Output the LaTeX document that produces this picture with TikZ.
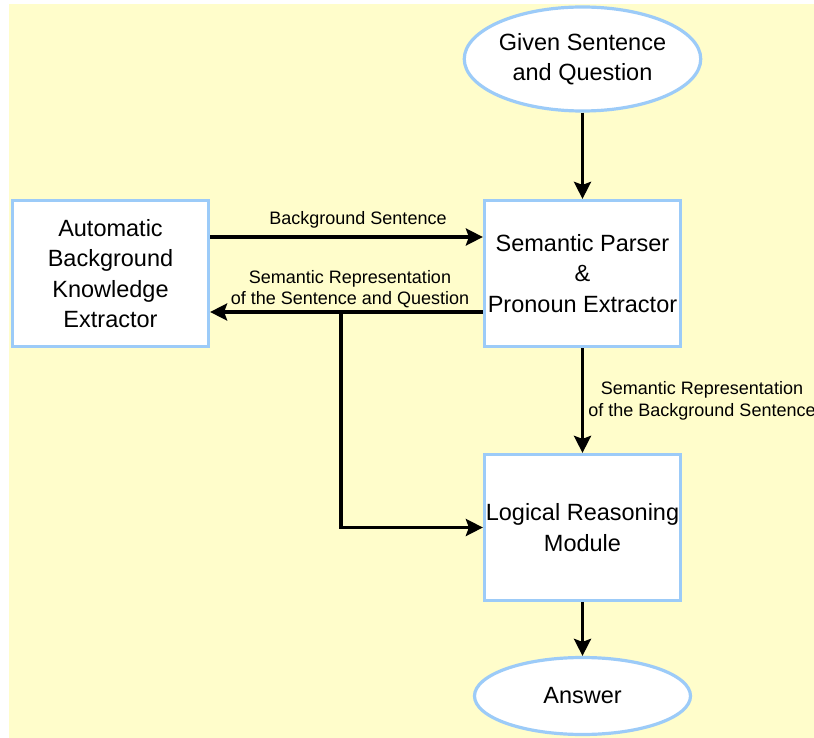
\documentclass[tikz,border=0pt]{standalone}
\usepackage{fontspec}
\setmainfont{Liberation Sans}
\usetikzlibrary{shapes.geometric,arrows.meta}
\definecolor{paper}{HTML}{FFFDCB}
\definecolor{edgeblue}{HTML}{9CCBF8}
\begin{document}
\begin{tikzpicture}[x=1pt,y=-1pt,
  box/.style={draw=edgeblue,line width=3.2pt,fill=white,minimum width=196pt,minimum height=146pt,
    align=center,font=\fontsize{23.5}{30.5}\selectfont,inner sep=0pt},
  oval/.style={ellipse,draw=edgeblue,line width=3.2pt,fill=white,align=center,
    font=\fontsize{23.5}{30.5}\selectfont,inner sep=0pt},
  arr/.style={line width=3.6pt,-{Stealth[length=17pt,width=17pt,inset=3pt]}},
  lbl/.style={align=center,font=\fontsize{18}{21.5}\selectfont,inner sep=0pt}]
  \useasboundingbox (0,0) rectangle (814,738);
  \fill[paper] (9,4) rectangle (814,738);

  % nodes
  \node[oval,minimum width=217pt,minimum height=104pt] (given) at (582.5,59) {Given Sentence\\and Question};
  \node[box] (parser) at (582.5,273.5) {Semantic Parser\\\&\\Pronoun Extractor};
  \node[box] (abk) at (110.5,273.5) {Automatic\\Background\\Knowledge\\Extractor};
  \node[box] (logic) at (582.5,527.5) {Logical Reasoning\\Module};
  \node[oval,minimum width=216pt,minimum height=77pt] (answer) at (582.5,696) {Answer};

  % connectors
  \draw[arr] (given) -- (parser);
  \draw[arr] (abk.east |- 0,237) -- (parser.west |- 0,237);
  \draw[arr] (parser.west |- 0,312) -- (abk.east |- 0,312);
  \coordinate (split) at (341,312);
  \draw[arr] (split) |- (logic.west);
  \draw[arr] (parser) -- (logic);
  \draw[arr] (logic) -- (answer);

  % labels
  \node[lbl] (lbs) at (358,220) {Background Sentence};
  \node[lbl] (lsq) at (350,289) {Semantic Representation\\of the Sentence and Question};
  \node[lbl] (lbg) at (702,401) {Semantic Representation\\of the Background Sentence};
\end{tikzpicture}
\end{document}
